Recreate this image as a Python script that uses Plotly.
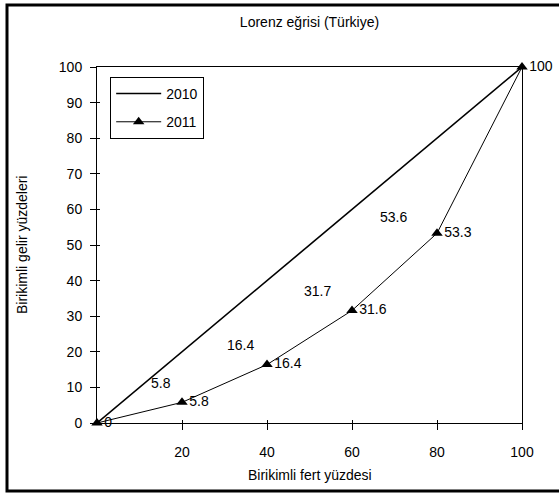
import plotly.graph_objects as go

# ---- data ----
fert_yuzde = [0, 20, 40, 60, 80, 100]          # Birikimli fert yüzdesi
esitlik_2010 = [0, 20, 40, 60, 80, 100]        # line shown as "2010" (diagonal)
gelir_2010 = [0, 5.8, 16.4, 31.7, 53.6, 100]   # 2010 value labels
gelir_2011 = [0, 5.8, 16.4, 31.6, 53.3, 100]   # 2011 Lorenz curve
etiket_2011 = ["0", "5.8", "16.4", "31.6", "53.3", "100"]
x_ticks = [20, 40, 60, 80, 100]
y_ticks = [0, 10, 20, 30, 40, 50, 60, 70, 80, 90, 100]

FONT = "Liberation Sans, Arial, sans-serif"

fig = go.Figure()

fig.add_trace(go.Scatter(
    x=fert_yuzde, y=esitlik_2010, name="2010", mode="lines",
    line=dict(color="black", width=1.6), legendgroup="a",
    cliponaxis=False,
))
fig.add_trace(go.Scatter(
    x=fert_yuzde, y=gelir_2011, name="2011", mode="lines+markers+text",
    line=dict(color="black", width=1),
    marker=dict(symbol="triangle-up", size=10, color="black"),
    text=etiket_2011, textposition="middle right",
    textfont=dict(size=14, color="black", family=FONT),
    legendgroup="b", cliponaxis=False,
))
# overlay axes only for inner tick marks (draws nothing itself)
fig.add_trace(go.Scatter(x=fert_yuzde, y=gelir_2011, mode="none", xaxis="x2", yaxis="y2",
                         showlegend=False, hoverinfo="skip"))

# 2010 value labels (placed up-left of the points, as in the reference)
shifts = [None, (-21, 19), (-27, 20), (-35, 19), (-44, 15), None]
for xi, yi, sh in zip(fert_yuzde, gelir_2010, shifts):
    if sh is None:
        continue
    fig.add_annotation(x=xi, y=yi, text=f"{yi:g}", showarrow=False,
                       xshift=sh[0], yshift=sh[1],
                       font=dict(size=14, color="black", family=FONT))

axis_common = dict(showgrid=False, zeroline=False, showline=True, linecolor="black",
                   linewidth=1, mirror=True, ticks="outside", ticklen=6,
                   tickcolor="black", tickwidth=1,
                   tickfont=dict(size=14, color="black", family=FONT))

fig.update_layout(
    width=559, height=495,
    margin=dict(l=97, r=37, t=67, b=72),
    paper_bgcolor="white", plot_bgcolor="white",
    font=dict(family=FONT, color="black", size=14),
    title=dict(text="Lorenz eğrisi (Türkiye)", x=0.5, xref="paper", xanchor="center",
               y=1 - 22 / 495, yref="container", yanchor="middle",
               font=dict(size=14, color="black", family=FONT)),
    xaxis=dict(range=[0, 100], tickvals=x_ticks, ticklabelstandoff=10, **axis_common),
    yaxis=dict(range=[0, 100], tickvals=y_ticks, ticklabelstandoff=5, **axis_common),
    xaxis2=dict(range=[0, 100], tickvals=x_ticks, overlaying="x", anchor="y2",
                side="bottom", showticklabels=False, showline=False, showgrid=False,
                zeroline=False, ticks="inside", ticklen=3, tickcolor="black"),
    yaxis2=dict(range=[0, 100], tickvals=y_ticks, overlaying="y", anchor="x2",
                side="left", showticklabels=False, showline=False, showgrid=False,
                zeroline=False, ticks="inside", ticklen=3, tickcolor="black"),
    legend=dict(x=0.031, y=0.972, xanchor="left", yanchor="top",
                bgcolor="white", bordercolor="black", borderwidth=1,
                font=dict(size=14, color="black", family=FONT),
                itemwidth=45,
                traceorder="grouped", tracegroupgap=7),
    showlegend=True,
)

# axis titles
fig.add_annotation(text="Birikimli fert yüzdesi", xref="paper", yref="paper",
                   x=0.5, y=-52 / 356, showarrow=False, yanchor="middle",
                   font=dict(size=14, color="black", family=FONT))
fig.add_annotation(text="Birikimli gelir yüzdeleri", xref="paper", yref="paper",
                   x=-75 / 425, y=0.5, showarrow=False, textangle=-90,
                   xanchor="center", yanchor="middle",
                   font=dict(size=14, color="black", family=FONT))

# outer frame
fig.add_shape(type="rect", xref="paper", yref="paper",
              x0=(7 - 97) / 425, x1=(575 - 97) / 425,
              y0=(423 - 491) / 356, y1=(423 - 5) / 356,
              line=dict(color="black", width=3), fillcolor="rgba(0,0,0,0)")

fig.write_html("out.html", config={"displayModeBar": False},
               post_script="document.body.style.margin='0px';document.body.style.overflow='hidden';")
